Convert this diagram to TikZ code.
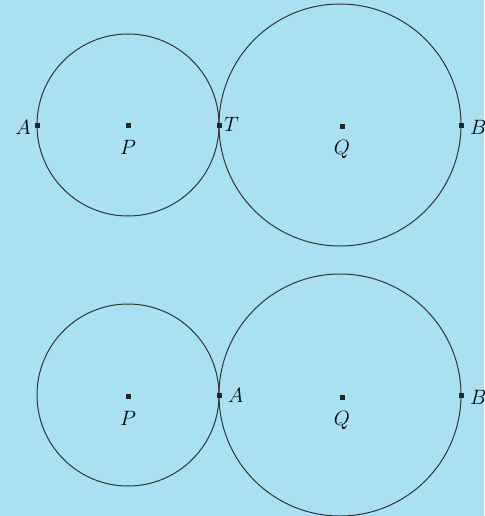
\documentclass[tikz,border=0pt]{standalone}
\begin{document}
\begin{tikzpicture}[x=1pt,y=-1pt,
  circ/.style={draw=black!80, line width=1pt},
  pt/.style={fill=black!85, minimum size=5pt, inner sep=0pt, outer sep=0pt, rectangle},
  lbl/.style={font=\fontsize{21}{25}\selectfont\itshape, inner sep=1pt}]
\definecolor{bgblue}{HTML}{A9E1F3}
\fill[bgblue] (0,0) rectangle (484,516);
\useasboundingbox (0,0) rectangle (484,516);
\clip (0,0) rectangle (484,516);
% top figure
\draw[circ] (128,125) circle[radius=91];
\draw[circ] (340,125) circle[radius=121];
\node[pt] (A1) at (37,125) {};
\node[pt] (P1) at (128,125) {};
\node[pt] (T1) at (219,125) {};
\node[pt] (Q1) at (342,126) {};
\node[pt] (B1) at (461,125) {};
\node[lbl, anchor=east] (lA1) at (32,127) {$A$};
\node[lbl] (lP1) at (128,147) {$P$};
\node[lbl, anchor=west] (lT1) at (223,124) {$T$};
\node[lbl] (lQ1) at (342,149) {$Q$};
\node[lbl, anchor=west] (lB1) at (469,127) {$B$};
% bottom figure
\draw[circ] (128,395) circle[radius=91];
\draw[circ] (340,395) circle[radius=121];
\node[pt] (P2) at (128,396) {};
\node[pt] (A2) at (219,395) {};
\node[pt] (Q2) at (342,397) {};
\node[pt] (B2) at (461,395) {};
\node[lbl] (lP2) at (128,418) {$P$};
\node[lbl, anchor=west] (lA2) at (227,395) {$A$};
\node[lbl] (lQ2) at (342,420) {$Q$};
\node[lbl, anchor=west] (lB2) at (469,397) {$B$};
\end{tikzpicture}
\end{document}
